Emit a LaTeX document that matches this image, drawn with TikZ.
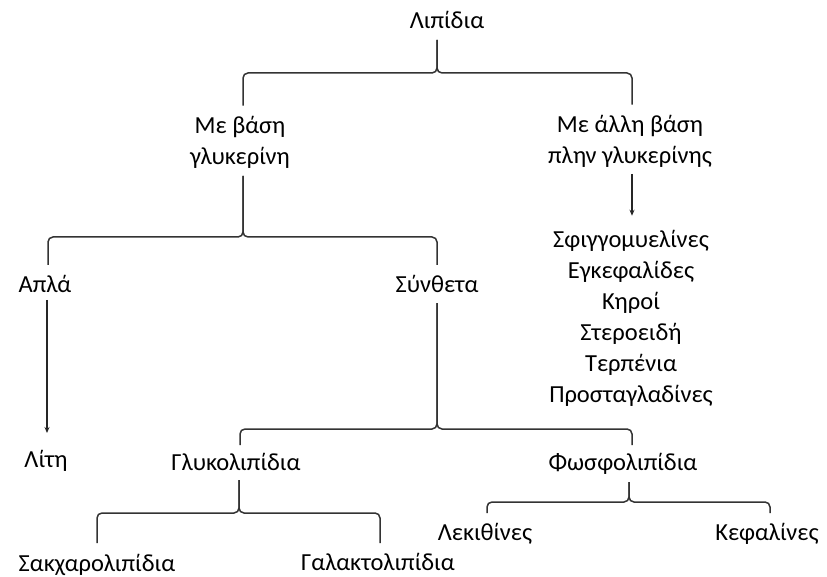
\documentclass[tikz,border=0pt]{standalone}
\usepackage{fontspec}
\setmainfont{Carlito}
\usetikzlibrary{arrows.meta,calc}
\begin{document}
\begin{tikzpicture}[x=1pt,y=-1pt,
  lbl/.style={font=\fontsize{24.5}{31}\selectfont, inner sep=0pt, outer sep=0pt, anchor=base, text=black},
  one/.style={lbl, text height=17pt, text depth=5pt},
  multi/.style={lbl, align=center},
  br/.style={draw=black!80, line width=1.5pt, rounded corners=5pt},
  arr/.style={draw=black!85, line width=1.2pt, -{Stealth[length=6pt,width=5pt]}}]
\path[use as bounding box] (0,0) rectangle (827,577);
% nodes (multi-line nodes placed at the baseline of their last line)
\node[one] (lip) at (447,29) {Λιπίδια};
\node[multi] (gly) at (240,165) {Με βάση\\γλυκερίνη};
\node[multi] (oth) at (630,164) {Με άλλη βάση\\πλην γλυκερίνης};
\node[multi] (list) at (631,402) {Σφιγγομυελίνες\\Εγκεφαλίδες\\Κηροί\\Στεροειδή\\Τερπένια\\Προσταγλαδίνες};
\node[one] (apl) at (45,292) {Απλά};
\node[one] (syn) at (437,292) {Σύνθετα};
\node[one] (lit) at (46,467) {Λίτη};
\node[one] (glk) at (236,470) {Γλυκολιπίδια};
\node[one] (fos) at (623,470) {Φωσφολιπίδια};
\node[one] (lek) at (485,540) {Λεκιθίνες};
\node[one] (kef) at (767,540) {Κεφαλίνες};
\node[one] (sak) at (97,571) {Σακχαρολιπίδια};
\node[one] (gal) at (378,570) {Γαλακτολιπίδια};
% junctions
\coordinate (j1) at (437,73);
\coordinate (j2) at (243,237);
\coordinate (j3) at (437,429);
\coordinate (j4) at (239,513);
\coordinate (j5) at (629,502);
% braces
\draw[br] ([xshift=3pt,yshift=11pt]gly.north) |- (j1) -- ([xshift=-10pt,yshift=-6pt]lip.south);
\draw[br] ([xshift=2pt,yshift=11pt]oth.north) |- (j1) -- ([xshift=-10pt,yshift=-6pt]lip.south);
\draw[br] ([xshift=3pt,yshift=10pt]apl.north) |- (j2) -- ([xshift=3pt,yshift=-7pt]gly.south);
\draw[br] ([yshift=10pt]syn.north) |- (j2) -- ([xshift=3pt,yshift=-7pt]gly.south);
\draw[br] ([xshift=4pt,yshift=8pt]glk.north) |- (j3) -- ([yshift=-6pt]syn.south);
\draw[br] ([xshift=9pt,yshift=8pt]fos.north) |- (j3) -- ([yshift=-6pt]syn.south);
\draw[br] ([yshift=11pt]sak.north) |- (j4) -- ([xshift=3pt,yshift=-5pt]glk.south);
\draw[br] ([xshift=2pt,yshift=10pt]gal.north) |- (j4) -- ([xshift=3pt,yshift=-5pt]glk.south);
\draw[br] ([xshift=2pt,yshift=10pt]lek.north) |- (j5) -- ([xshift=6pt,yshift=-7pt]fos.south);
\draw[br] ([xshift=3pt,yshift=10pt]kef.north) |- (j5) -- ([xshift=6pt,yshift=-7pt]fos.south);
% arrows
\draw[arr] ([xshift=2pt,yshift=-6pt]oth.south) -- ([xshift=1pt,yshift=14pt]list.north);
\draw[arr] ([xshift=2pt,yshift=-3pt]apl.south) -- ([xshift=1pt,yshift=17pt]lit.north);
\end{tikzpicture}
\end{document}
